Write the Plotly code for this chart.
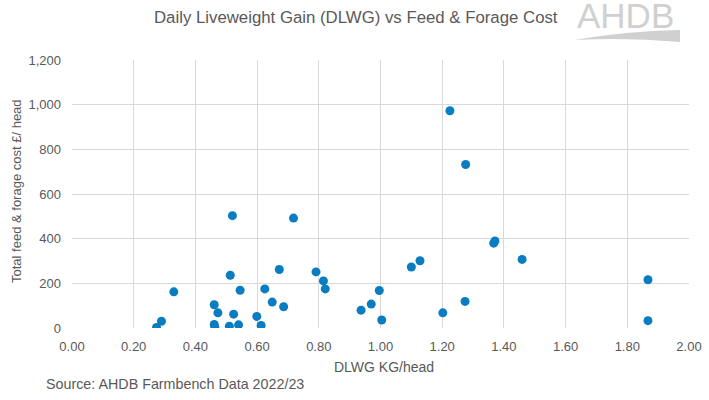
import plotly.graph_objects as go

dlwg = [0.274, 0.290, 0.330, 0.461, 0.473, 0.461, 0.463, 0.513, 0.510, 0.524,
        0.540, 0.545, 0.599, 0.613, 0.625, 0.649, 0.672, 0.686, 0.520, 0.718,
        0.791, 0.815, 0.821, 0.937, 0.970, 0.996, 1.004, 1.100, 1.128, 1.202,
        1.225, 1.274, 1.276, 1.367, 1.371, 1.459, 1.867, 1.867]
cost = [2, 30, 162, 104, 68, 16, 2, 236, 8, 62,
        14, 169, 52, 11, 175, 116, 262, 95, 503, 492,
        251, 211, 175, 80, 107, 168, 36, 273, 301, 68,
        973, 119, 732, 380, 390, 307, 216, 33]

x_ticks = [0.0, 0.2, 0.4, 0.6, 0.8, 1.0, 1.2, 1.4, 1.6, 1.8, 2.0]
y_ticks = [0, 200, 400, 600, 800, 1000, 1200]

FONT = "Liberation Sans, Arial, sans-serif"
GRAY = "#595959"
LOGO = "#D0D0D0"

L, R, T, B = 72, 20, 60, 72
PW, PH = 709 - L - R, 400 - T - B


def px(xp):
    return (xp - L) / PW


def py(yp):
    return (400 - B - yp) / PH


fig = go.Figure()
fig.add_trace(go.Scatter(
    x=dlwg, y=cost, mode="markers",
    marker=dict(color="#0A7CC1", size=9, line=dict(width=0)),
    showlegend=False, hoverinfo="x+y"))

fig.update_layout(
    width=709, height=400, autosize=False,
    margin=dict(l=L, r=R, t=T, b=B, autoexpand=False),
    paper_bgcolor="white", plot_bgcolor="white",
    font=dict(family=FONT, color=GRAY, size=13),
    xaxis=dict(range=[0, 2], tickvals=x_ticks, tickformat=".2f",
               showgrid=True, gridcolor="#D9D9D9", gridwidth=1,
               zeroline=False, showline=False, ticks="", automargin=False,
               ticklabelstandoff=9,
               tickfont=dict(size=13, color=GRAY)),
    yaxis=dict(range=[0, 1200], tickvals=y_ticks, tickformat=",",
               showgrid=True, gridcolor="#D9D9D9", gridwidth=1,
               zeroline=False, showline=False, ticks="", automargin=False,
               ticklabelstandoff=10,
               tickfont=dict(size=13, color=GRAY)),
    annotations=[
        dict(text="Daily Liveweight Gain (DLWG) vs Feed & Forage Cost",
             xref="paper", yref="paper", x=px(356), y=py(17),
             xanchor="center", yanchor="middle", showarrow=False,
             font=dict(size=16.8, color=GRAY, family=FONT)),
        dict(text="DLWG KG/head",
             xref="paper", yref="paper", x=px(384), y=py(367),
             xanchor="center", yanchor="middle", showarrow=False,
             font=dict(size=14, color=GRAY, family=FONT)),
        dict(text="Total feed & forage cost £/ head", textangle=-90,
             xref="paper", yref="paper", x=px(16), y=py(191),
             xanchor="center", yanchor="middle", showarrow=False,
             font=dict(size=13, color=GRAY, family=FONT)),
        dict(text="Source: AHDB Farmbench Data 2022/23",
             xref="paper", yref="paper", x=px(44), y=py(384),
             xanchor="left", yanchor="middle", showarrow=False,
             font=dict(size=14.3, color=GRAY, family=FONT)),
        dict(text="AHDB",
             xref="paper", yref="paper", x=px(625), y=py(16),
             xanchor="center", yanchor="middle", showarrow=False,
             font=dict(size=35, color=LOGO, family=FONT)),
    ],
    shapes=[
        dict(type="path", xref="paper", yref="paper",
             path="M {x0},{y0} Q {x1},{y1} {x2},{y2} L {x2},{y3} Q {x1},{y4} {x0},{y0} Z".format(
                 x0=px(574), y0=py(40),
                 x1=px(626), y1=py(31),
                 x2=px(680), y2=py(30),
                 y3=py(42), y4=py(37)),
             fillcolor=LOGO, line=dict(width=0)),
    ],
)

fig.write_html(
    "out.html",
    config={"responsive": False, "displayModeBar": False},
    post_script="document.body.style.margin='0px';"
                "document.body.style.overflow='hidden';"
                "Plotly.relayout('{plot_id}', {width: 709, height: 400});",
)
